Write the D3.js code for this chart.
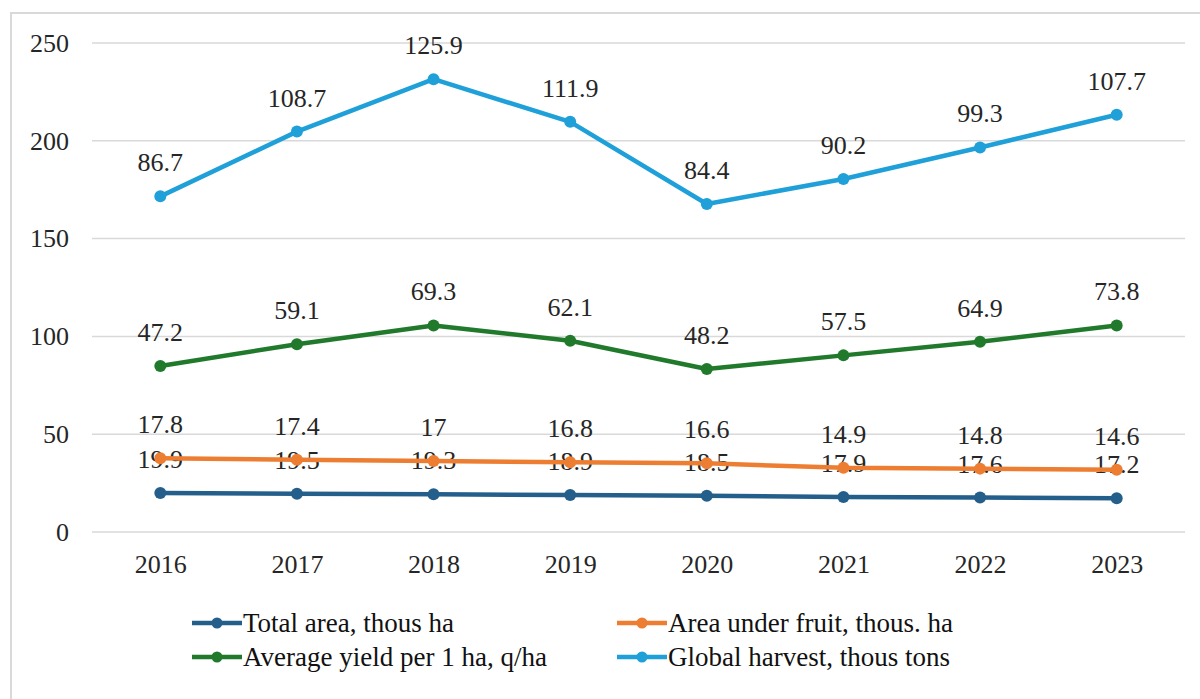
<!DOCTYPE html>
<html>
<head>
<meta charset="utf-8">
<script src="https://cdn.jsdelivr.net/npm/d3@7"></script>
<style>
  html, body { margin:0; padding:0; background:#fff; }
</style>
</head>
<body>
<div id="chart"></div>
<script>
// Stacked line chart — fruit production 2016–2023
const years = ["2016","2017","2018","2019","2020","2021","2022","2023"];

const totalArea   = [19.9, 19.5, 19.3, 18.9, 18.5, 17.9, 17.6, 17.2];
const fruitArea   = [17.8, 17.4, 17, 16.8, 16.6, 14.9, 14.8, 14.6];
const avgYield    = [47.2, 59.1, 69.3, 62.1, 48.2, 57.5, 64.9, 73.8];
const harvest     = [86.7, 108.7, 125.9, 111.9, 84.4, 90.2, 99.3, 107.7];

const seriesNames = ["Total area, thous ha", "Area under fruit, thous. ha",
                     "Average yield per 1 ha, q/ha", "Global harvest, thous tons"];
const yTicks = [0, 50, 100, 150, 200, 250];

const colors = ["#245f8c", "#ed7d31", "#217a2c", "#1fa0d8"];
const FONT = '"Liberation Serif", "Times New Roman", "DejaVu Serif", serif';

const width = 1200, height = 699;
const svg = d3.select("#chart").append("svg")
  .attr("width", width).attr("height", height)
  .style("font-family", FONT);

// outer frame
svg.append("rect")
  .attr("x", 11).attr("y", 13).attr("width", 1200).attr("height", 700)
  .attr("fill", "#fff").attr("stroke", "#d9d9d9").attr("stroke-width", 2);

const plot = {left:92, right:1185, top:43, bottom:532};

const x = d3.scalePoint().domain(years).range([plot.left, plot.right]).padding(0.5);
const y = d3.scaleLinear().domain([0, 250]).range([plot.bottom, plot.top]);

// gridlines
svg.append("g").selectAll("line").data(yTicks).join("line")
  .attr("x1", plot.left).attr("x2", plot.right)
  .attr("y1", d => y(d)).attr("y2", d => y(d))
  .attr("stroke", "#d9d9d9").attr("stroke-width", 1.5);

// y axis labels
const yAxis = svg.append("g").attr("transform", `translate(${plot.left},0)`)
  .call(d3.axisLeft(y).tickValues(yTicks).tickSize(0).tickPadding(23));
yAxis.select(".domain").remove();
yAxis.attr("font-family", null).attr("font-size", null);
yAxis.selectAll("text").style("font-family", FONT).style("font-size", "26px").attr("fill", "#262626");

// x axis labels
const xAxis = svg.append("g").attr("transform", `translate(0,${plot.bottom})`)
  .call(d3.axisBottom(x).tickSize(0).tickPadding(23));
xAxis.select(".domain").remove();
xAxis.attr("font-family", null).attr("font-size", null);
xAxis.selectAll("text").style("font-family", FONT).style("font-size", "26px").attr("fill", "#262626");

// stack the series
const raw = [totalArea, fruitArea, avgYield, harvest];
const rows = years.map((yr, i) => {
  const o = {year: yr};
  raw.forEach((s, k) => o["s" + k] = s[i]);
  return o;
});
const stacked = d3.stack().keys(["s0","s1","s2","s3"])(rows);

const line = d3.line().x(d => x(d.data.year)).y(d => y(d[1]));

const fmt = v => String(+v.toFixed(1));

stacked.forEach((layer, k) => {
  const g = svg.append("g");
  g.append("path").datum(layer)
    .attr("d", line)
    .attr("fill", "none")
    .attr("stroke", colors[k])
    .attr("stroke-width", 4.5)
    .attr("stroke-linejoin", "round");
  g.selectAll("circle").data(layer).join("circle")
    .attr("cx", d => x(d.data.year)).attr("cy", d => y(d[1]))
    .attr("r", 6).attr("fill", colors[k]);
  g.selectAll("text").data(layer).join("text")
    .attr("x", d => x(d.data.year)).attr("y", d => y(d[1]) - 25)
    .attr("text-anchor", "middle")
    .attr("fill", "#262626")
    .style("font-size", "26px")
    .text((d, i) => fmt(raw[k][i]));
});

// legend
const legendPos = [[192, 623], [617, 623], [192, 657], [617, 657]];
const leg = svg.append("g");
seriesNames.forEach((name, k) => {
  const [lx, ly] = legendPos[k];
  leg.append("line").attr("x1", lx).attr("x2", lx + 50).attr("y1", ly).attr("y2", ly)
    .attr("stroke", colors[k]).attr("stroke-width", 4.5);
  leg.append("circle").attr("cx", lx + 25).attr("cy", ly).attr("r", 5.5).attr("fill", colors[k]);
  leg.append("text").attr("x", lx + 51).attr("y", ly).attr("dy", "0.35em")
    .attr("fill", "#111")
    .style("font-size", "27px").text(name);
});
</script>
</body>
</html>
